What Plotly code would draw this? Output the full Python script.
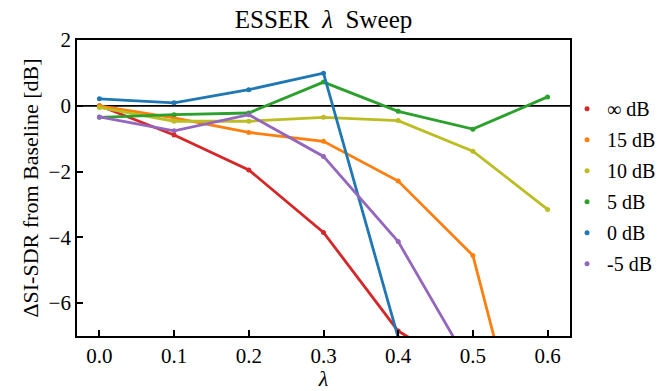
import plotly.graph_objects as go

lambdas = [0.0, 0.1, 0.2, 0.3, 0.4, 0.5, 0.6]
snr_labels = ["∞ dB", "15 dB", "10 dB", "5 dB", "0 dB", "-5 dB"]
colors = ["#d62728", "#ff7f0e", "#bcbd22", "#2ca02c", "#1f77b4", "#9467bd"]

inf_db = [0.0, -0.89, -1.95, -3.85, -6.85, -8.2, -10.0]
db15 = [0.0, -0.37, -0.81, -1.08, -2.29, -4.55, -13.3]
db10 = [-0.05, -0.47, -0.47, -0.35, -0.45, -1.38, -3.15]
db5 = [-0.35, -0.27, -0.22, 0.72, -0.17, -0.71, 0.27]
db0 = [0.21, 0.09, 0.49, 0.99, -7.05, -15.0, -20.0]
dbm5 = [-0.34, -0.76, -0.27, -1.54, -4.13, -8.05, -11.0]

series = [inf_db, db15, db10, db5, db0, dbm5]

FONT = "Liberation Serif"

fig = go.Figure()
for vals, name, col in zip(series, snr_labels, colors):
    fig.add_trace(go.Scatter(
        x=lambdas, y=vals, mode="lines+markers", name=name,
        line=dict(color=col, width=2.8),
        marker=dict(color=col, size=5),
        showlegend=False, cliponaxis=True,
    ))
for i, (name, col) in enumerate(zip(snr_labels, colors)):
    fig.add_trace(go.Scatter(
        x=[None], y=[None], mode="markers", name=name,
        legendgroup="g%d" % i,
        marker=dict(color=col, size=5),
    ))

fig.add_shape(type="line", xref="paper", x0=0, x1=1, yref="y", y0=0, y1=0,
              line=dict(color="black", width=1.8), layer="below")

fig.update_layout(
    width=658, height=391,
    margin=dict(l=77, r=88, t=40, b=55, autoexpand=False),
    paper_bgcolor="white", plot_bgcolor="white",
    font=dict(family=FONT, size=21, color="black"),
    title=dict(text="ESSER\u00a0\u00a0<i>λ</i>\u00a0\u00a0Sweep", x=0.5, xanchor="center",
               xref="paper", y=1 - 19/391, yanchor="middle",
               font=dict(family=FONT, size=25)),
    showlegend=True,
    legend=dict(x=0.994, xanchor="left", y=0.834, yanchor="top",
                font=dict(family=FONT, size=20), bgcolor="rgba(0,0,0,0)",
                itemwidth=30, tracegroupgap=2),
    xaxis=dict(range=[-0.03, 0.63], tickvals=lambdas,
               ticktext=["0.0", "0.1", "0.2", "0.3", "0.4", "0.5", "0.6"],
               ticks="inside", ticklen=6, tickwidth=1.5, tickcolor="black",
               showline=True, linecolor="black", linewidth=1.8, mirror=True,
               showgrid=False, zeroline=False,
               title=dict(text="<i>λ</i>", standoff=0, font=dict(family=FONT, size=22)),
               tickfont=dict(family=FONT, size=21)),
    yaxis=dict(range=[-7, 2], tickvals=[2, 0, -2, -4, -6],
               ticks="inside", ticklen=6, tickwidth=1.5, tickcolor="black",
               showline=True, linecolor="black", linewidth=1.8, mirror=True,
               showgrid=False, zeroline=False,
               title=dict(text="ΔSI-SDR from Baseline [dB]", standoff=4,
                          font=dict(family=FONT, size=22)),
               tickfont=dict(family=FONT, size=21)),
)

fig.write_html("out.html")
